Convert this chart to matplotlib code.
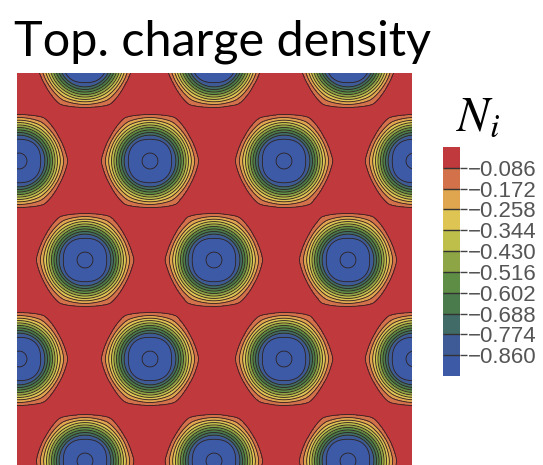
import numpy as np
import matplotlib
matplotlib.use("Agg")
import matplotlib.pyplot as plt

plt.rcParams["mathtext.fontset"] = "stix"
plt.rcParams["font.family"] = ["Liberation Sans", "DejaVu Sans"]
plt.rcParams["contour.negative_linestyle"] = "solid"

# ---- data (pixel coordinates of skyrmion centres) ----
row_a_x = [-113, 19, 150, 284, 414, 545]        # rows with a centre near the left edge
row_b_x = [-47, 85, 214, 348, 480]              # rows shifted by half a period
rows_y = [-39, 61, 161, 260, 359, 461, 561]
rows_kind = ["a", "b", "a", "b", "a", "b", "a"]

# radial profile of the topological charge density of one skyrmion (px, value)
profile_r = [0, 8, 16, 22.5, 26, 28.5, 31, 33.5, 36, 38.5, 41.5, 45, 49, 57, 70, 85]
profile_v = [-0.962, -0.946, -0.905, -0.86, -0.774, -0.688, -0.602, -0.516, -0.43,
             -0.344, -0.258, -0.172, -0.086, -0.04, -0.01, 0.0]

tick_levels = [-0.860, -0.774, -0.688, -0.602, -0.516, -0.430, -0.344, -0.258, -0.172, -0.086]
tick_labels = ["\u22120.860", "\u22120.774", "\u22120.688", "\u22120.602", "\u22120.516",
               "\u22120.430", "\u22120.344", "\u22120.258", "\u22120.172", "\u22120.086"]
extra_line_level = -0.946
band_colors = ["#3C5AA5", "#3E5B98", "#416B67", "#4A7B4C", "#5E8D45", "#8DA544",
               "#BEBF4B", "#DDC453", "#E0A64F", "#D3714A", "#C0393C"]

# ---- figure ----
W, H, DPI = 543, 465, 100
fig = plt.figure(figsize=(W / DPI, H / DPI), dpi=DPI)


def px_axes(l, t, r, b):
    return fig.add_axes([l / W, 1 - b / H, (r - l) / W, (b - t) / H])


x0, x1, y0, y1 = 16.6, 412, 73, 468
ax = px_axes(x0, y0, x1, y1)
xs = np.linspace(x0, x1, 800)
ys = np.linspace(y0, y1, 800)
X, Y = np.meshgrid(xs, ys)
Z = np.zeros_like(X)
normals = np.deg2rad([30, 90, 150])
for ry, kind in zip(rows_y, rows_kind):
    for rx in (row_a_x if kind == "a" else row_b_x):
        dx, dy = X - rx, Y - ry
        r = np.hypot(dx, dy)
        theta = np.arctan2(dy, dx)
        proj = np.array([np.abs(dx * np.cos(t) + dy * np.sin(t)) for t in normals])
        pmax = proj.max(axis=0) + 1e-9
        h = pmax * ((proj / pmax) ** 24).sum(axis=0) ** (1 / 24) / np.cos(np.pi / 6)
        w = np.clip((r - 38) / 12, 0, 1) * 0.5
        sq = 0.035 * np.cos(4 * theta) * np.exp(-((r - 21) / 3.5) ** 2)
        r_eff = r * (1 + sq) + w * (h - r)
        Z += np.interp(r_eff, profile_r, profile_v)

fill_levels = [-2.0] + tick_levels + [1.0]
cf = ax.contourf(X, Y, Z, levels=fill_levels, colors=band_colors)
ax.contour(X, Y, Z, levels=[extra_line_level] + tick_levels, colors="#2e2222",
           linewidths=0.6, linestyles="solid")
ax.set_xlim(x0, x1)
ax.set_ylim(y1, y0)
ax.set_xticks([])
ax.set_yticks([])
for s in ax.spines.values():
    s.set_visible(False)

cax = px_axes(443, 147, 460, 376)
cb = fig.colorbar(cf, cax=cax, ticks=tick_levels, spacing="uniform")
cb.set_ticklabels(tick_labels)
cb.outline.set_visible(False)
cb.add_lines(tick_levels, ["#333333"] * len(tick_levels), [1.0] * len(tick_levels))
cax.tick_params(length=5, width=1, color="#444444", labelcolor="#555555", labelsize=16, pad=1)

# title fitted to the reference width
title = fig.text(14 / W, 1 - 55 / H, "Top. charge density", family="Lato", fontsize=40,
                 va="baseline", ha="left", color="black")
fig.canvas.draw()
bb = title.get_window_extent()
title.set_fontsize(40 * 417 / bb.width)

fig.text(478 / W, 1 - 130 / H, r"$N_i$", fontsize=35, ha="center", va="baseline")

fig.savefig("out.png", dpi=DPI)
